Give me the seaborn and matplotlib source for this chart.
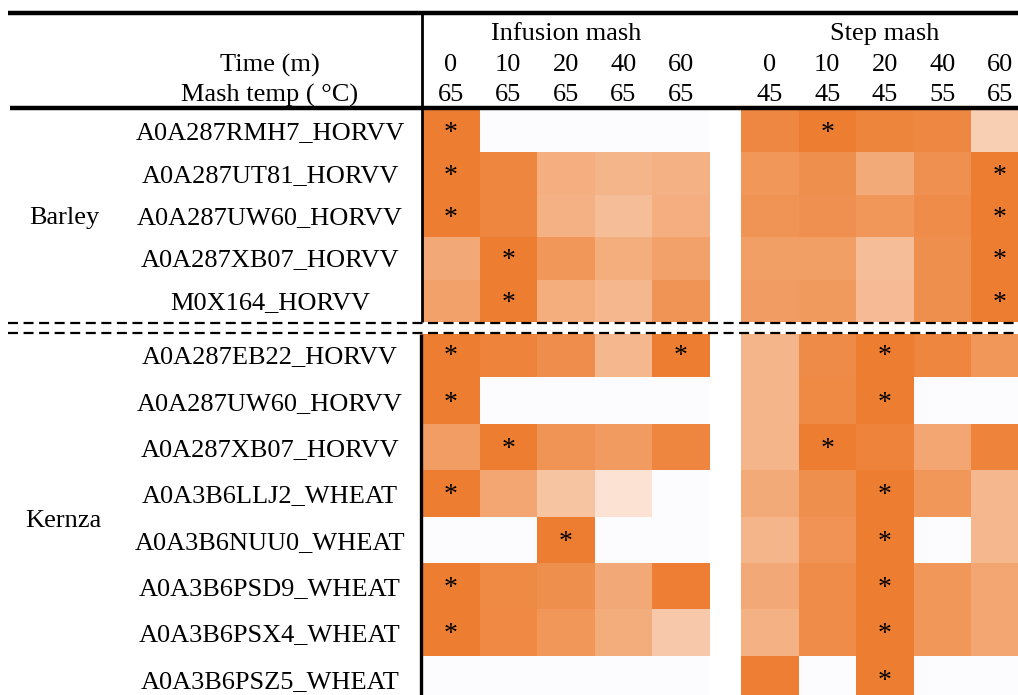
import numpy as np
import pandas as pd
import matplotlib
matplotlib.use("Agg")
import matplotlib.pyplot as plt
import matplotlib.transforms as mtransforms
from matplotlib.colors import LinearSegmentedColormap
import seaborn as sns

nan = np.nan

# ---- table content -------------------------------------------------------
time_min = ["0", "10", "20", "40", "60"]
infusion_temp = ["65", "65", "65", "65", "65"]
step_temp = ["45", "45", "45", "55", "65"]

barley_proteins = ["A0A287RMH7_HORVV", "A0A287UT81_HORVV", "A0A287UW60_HORVV",
                   "A0A287XB07_HORVV", "M0X164_HORVV"]
kernza_proteins = ["A0A287EB22_HORVV", "A0A287UW60_HORVV", "A0A287XB07_HORVV",
                   "A0A3B6LLJ2_WHEAT", "A0A3B6NUU0_WHEAT", "A0A3B6PSD9_WHEAT",
                   "A0A3B6PSX4_WHEAT", "A0A3B6PSZ5_WHEAT"]

# relative abundance (fraction of the row maximum within each mash type)
barley_infusion = [
    [1.00, nan, nan, nan, nan],
    [1.00, 0.93, 0.62, 0.57, 0.60],
    [1.00, 0.93, 0.60, 0.50, 0.62],
    [0.66, 1.00, 0.80, 0.63, 0.72],
    [0.72, 1.00, 0.63, 0.55, 0.82],
]
barley_step = [
    [0.92, 1.00, 0.94, 0.92, 0.37],
    [0.80, 0.86, 0.65, 0.85, 1.00],
    [0.82, 0.85, 0.80, 0.88, 1.00],
    [0.74, 0.74, 0.50, 0.86, 1.00],
    [0.76, 0.78, 0.52, 0.86, 1.00],
]
kernza_infusion = [
    [1.00, 0.95, 0.87, 0.55, 1.00],
    [1.00, nan, nan, nan, nan],
    [0.75, 1.00, 0.82, 0.77, 0.93],
    [1.00, 0.68, 0.45, 0.22, nan],
    [nan, nan, 1.00, nan, nan],
    [1.00, 0.90, 0.86, 0.66, 0.99],
    [1.00, 0.91, 0.80, 0.64, 0.42],
    [nan, nan, nan, nan, nan],
]
kernza_step = [
    [0.57, 0.89, 1.00, 0.93, 0.80],
    [0.57, 0.90, 1.00, nan, nan],
    [0.57, 1.00, 0.95, 0.68, 0.95],
    [0.65, 0.86, 1.00, 0.80, 0.55],
    [0.57, 0.83, 1.00, nan, 0.55],
    [0.66, 0.88, 1.00, 0.80, 0.68],
    [0.60, 0.88, 1.00, 0.80, 0.68],
    [0.99, nan, 1.00, nan, nan],
]

# ---- style ---------------------------------------------------------------
sns.set_style("white")
plt.rcParams["font.family"] = ["Liberation Serif", "DejaVu Serif"]
plt.rcParams["text.color"] = "black"
FS = 19
ORANGE = "#ED7D31"
EMPTY = "#FCFCFE"
cmap = LinearSegmentedColormap.from_list("tint", ["#FFFFFF", ORANGE])

W, H = 1018, 695
fig = plt.figure(figsize=(W / 100, H / 100), dpi=100)
fig.patch.set_facecolor("white")


def px_axes(x0, y0, x1, y1, **kw):
    return fig.add_axes([x0 / W, 1 - y1 / H, (x1 - x0) / W, (y1 - y0) / H], **kw)


# asterisk glyph sits high in the em box; shift baseline down so the ink
# lands just above the cell centre
star_shift = mtransforms.ScaledTranslation(0, -0.34 * FS / 72, fig.dpi_scale_trans)


def block(values, box):
    df = pd.DataFrame(values, columns=time_min)
    ax = px_axes(*box)
    ax.set_facecolor(EMPTY)
    stars = np.where(df.values >= 1.0, "*", "")
    sns.heatmap(df, ax=ax, cmap=cmap, vmin=0, vmax=1, cbar=False,
                mask=df.isna(), annot=stars, fmt="",
                annot_kws={"fontsize": FS + 1, "color": "black"},
                xticklabels=False, yticklabels=False, linewidths=0)
    for t in ax.texts:
        t.set_va("baseline")
        t.set_transform(t.get_transform() + star_shift)
    ax.set_xlabel("")
    ax.set_ylabel("")
    return ax


INF_X = (422, 709.5)
STEP_X = (741, 1028.5)
BARLEY_Y = (110, 322)
KERNZA_Y = (331, 702)

block(barley_infusion, (INF_X[0], BARLEY_Y[0], INF_X[1], BARLEY_Y[1]))
block(barley_step, (STEP_X[0], BARLEY_Y[0], STEP_X[1], BARLEY_Y[1]))
block(kernza_infusion, (INF_X[0], KERNZA_Y[0], INF_X[1], KERNZA_Y[1]))
block(kernza_step, (STEP_X[0], KERNZA_Y[0], STEP_X[1], KERNZA_Y[1]))

# ---- overlay for header, labels and rules (pixel coordinates) -----------
ov = fig.add_axes([0, 0, 1, 1], facecolor="none")
ov.set_xlim(0, W)
ov.set_ylim(H, 0)
ov.axis("off")

DY = 2  # small downward nudge so text ink centres on its row


def label(x, y, s, **kw):
    ov.text(x, y + DY, s, ha="center", va="center", fontsize=FS, **kw)


inf_w = (INF_X[1] - INF_X[0]) / 5
step_w = (STEP_X[1] - STEP_X[0]) / 5
inf_cx = [INF_X[0] + inf_w * (i + 0.5) for i in range(5)]
step_cx = [STEP_X[0] + step_w * (i + 0.5) for i in range(5)]

label(np.mean(inf_cx), 32, "Infusion mash")
label(np.mean(step_cx), 32, "Step mash")
label(270, 63, "Time (m)")
label(270, 93, "Mash temp ( °C)")
for cx, t, m in zip(inf_cx, time_min, infusion_temp):
    label(cx, 63, t)
    label(cx, 93, m)
for cx, t, m in zip(step_cx, time_min, step_temp):
    label(cx, 63, t)
    label(cx, 93, m)

b_h = (BARLEY_Y[1] - BARLEY_Y[0]) / len(barley_proteins)
for i, name in enumerate(barley_proteins):
    label(270, BARLEY_Y[0] + b_h * (i + 0.5), name)
k_h = (KERNZA_Y[1] - KERNZA_Y[0]) / len(kernza_proteins)
for i, name in enumerate(kernza_proteins):
    label(270, KERNZA_Y[0] + k_h * (i + 0.5) + 1, name)

label(64, 216, "Barley")
label(63, 519, "Kernza")

# rules
ov.plot([8, W], [13, 13], color="black", lw=3.2, solid_capstyle="butt")
ov.plot([10, W], [108, 108], color="black", lw=3.2, solid_capstyle="butt")
ov.plot([422, 422], [13, 322], color="black", lw=2.0, solid_capstyle="butt")
ov.plot([421, 421], [334, H], color="black", lw=2.4, solid_capstyle="butt")

# group separator: white band between two dashed rules
ov.fill_between([0, W], 322, 334, color="white", lw=0)
for yy in (323, 333):
    ov.plot([8, W], [yy, yy], color="black", lw=1.6, ls=(0, (4.5, 2.5)),
            dash_capstyle="butt")

fig.savefig("out.png", dpi=100, facecolor="white")
